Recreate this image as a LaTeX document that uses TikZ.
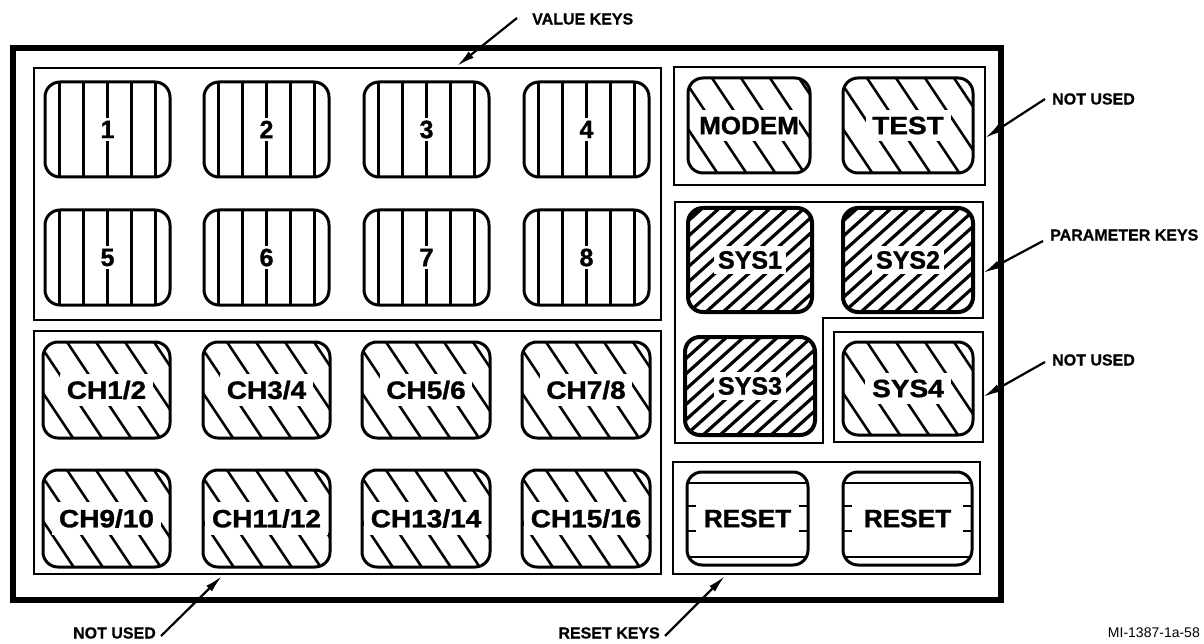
\documentclass[tikz,border=0pt]{standalone}
\usepackage{fontspec}
\setmainfont{Liberation Sans}
\newfontfamily\keyfont[FakeBold=1.2]{Liberation Sans Bold}
\newfontfamily\lblfont[FakeBold=0.6]{Liberation Sans Bold}
\usetikzlibrary{arrows.meta}
\tikzset{
  frame/.style={line width=6pt},
  boxline/.style={line width=2pt},
  keyborder/.style={line width=3pt, rounded corners=15pt},
  sysborder/.style={line width=4pt, rounded corners=15pt},
  hatch/.style={line width=2.6pt},
  densehatch/.style={line width=3.2pt},
  keytext/.style={font=\fontsize{25}{25}\selectfont\keyfont, fill=white, inner sep=3pt},
  chtext/.style={keytext, inner xsep=6pt, inner ysep=7pt, xscale=1.12},
  modemtext/.style={keytext, inner xsep=0pt, inner ysep=7pt, xscale=1.04},
  systext/.style={keytext, inner xsep=4pt, inner ysep=5pt},
  resettext/.style={keytext, fill=none, xscale=1.05},
  lbl/.style={font=\fontsize{16}{16}\selectfont\lblfont, inner sep=0pt},
  idlbl/.style={font=\fontsize{14}{14}\selectfont, inner sep=0pt},
  arr/.style={line width=2.2pt, -{Latex[length=18pt,width=8pt]}}
}
\newcommand\vhatch{\foreach \i in {-2,...,2}{\draw[hatch] ({(\xa+\xb)/2+24*(\i)},\ya) -- ({(\xa+\xb)/2+24*(\i)},\yb);}}
\newcommand\bhatch{\foreach \i in {-3,...,4}{\draw[hatch] ({\xa+24+29*(\i)},\ya) -- ++({(\yb-\ya)*2/3},{\yb-\ya});}}
\newcommand\shatch{\foreach \i in {0,...,15}{\draw[densehatch] ({\xa-118+17*(\i)},\yb) -- ++({(\yb-\ya)/0.9},{\ya-\yb});}}
\newcommand\rhatch{%
  \draw[hatch] (\xa,{\ya+11}) -- (\xb,{\ya+11});
  \draw[hatch] (\xa,{\yb-8}) -- (\xb,{\yb-8});
  \foreach \s in {-12.5,12.5}{%
    \draw[hatch] (\xa,{(\ya+\yb)/2+\s}) -- ++(9,0);
    \draw[hatch] (\xb,{(\ya+\yb)/2+\s}) -- ++(-9,0);}}
\newcommand\padkey[9]{%
  \def\xa{#2}\def\ya{#3}\def\xb{#4}\def\yb{#5}%
  \begin{scope}
    \clip[rounded corners=15pt] (\xa,\ya) rectangle (\xb,\yb);
    #6
  \end{scope}
  \node[#8] (#1) at ({(\xa+\xb)/2},{(\ya+\yb)/2}) {#9};
  \draw[#7] (\xa,\ya) rectangle (\xb,\yb);
}
\begin{document}
\begin{tikzpicture}[x=1pt,y=-1pt]
\useasboundingbox (0,0) rectangle (1204,644);
% outer frame
\draw[frame] (13,48) rectangle (1001,600);
% group boxes
\draw[boxline] (34,68) rectangle (661,320);
\draw[boxline] (34,331) rectangle (661,574);
\draw[boxline] (674,67) rectangle (985,185);
\draw[boxline] (675,202) -- (983,202) -- (983,318) -- (823,318) -- (823,443) -- (675,443) -- cycle;
\draw[boxline] (834,332) rectangle (983,442);
\draw[boxline] (673,462) rectangle (980,574);
% value keys
\padkey{k1}{45}{82}{170}{177}{\vhatch}{keyborder}{keytext}{1}
\padkey{k2}{204}{82}{329}{177}{\vhatch}{keyborder}{keytext}{2}
\padkey{k3}{364}{82}{489}{177}{\vhatch}{keyborder}{keytext}{3}
\padkey{k4}{524}{82}{649}{177}{\vhatch}{keyborder}{keytext}{4}
\padkey{k5}{45}{210}{170}{305}{\vhatch}{keyborder}{keytext}{5}
\padkey{k6}{204}{210}{329}{305}{\vhatch}{keyborder}{keytext}{6}
\padkey{k7}{364}{210}{489}{305}{\vhatch}{keyborder}{keytext}{7}
\padkey{k8}{524}{210}{649}{305}{\vhatch}{keyborder}{keytext}{8}
% channel keys
\padkey{ch1}{43}{342}{170}{438}{\bhatch}{keyborder}{chtext}{CH1/2}
\padkey{ch3}{203}{342}{330}{438}{\bhatch}{keyborder}{chtext}{CH3/4}
\padkey{ch5}{362}{342}{490}{438}{\bhatch}{keyborder}{chtext}{CH5/6}
\padkey{ch7}{522}{342}{650}{438}{\bhatch}{keyborder}{chtext}{CH7/8}
\padkey{ch9}{43}{470}{170}{567}{\bhatch}{keyborder}{chtext}{CH9/10}
\padkey{ch11}{203}{470}{330}{567}{\bhatch}{keyborder}{chtext}{CH11/12}
\padkey{ch13}{362}{470}{490}{567}{\bhatch}{keyborder}{chtext}{CH13/14}
\padkey{ch15}{522}{470}{650}{567}{\bhatch}{keyborder}{chtext}{CH15/16}
% right keys
\padkey{modem}{688}{78}{810}{173}{\bhatch}{keyborder}{modemtext}{MODEM}
\padkey{test}{843}{78}{973}{173}{\bhatch}{keyborder}{chtext}{TEST}
\padkey{sys1}{688}{208}{812}{312}{\shatch}{sysborder}{systext}{SYS1}
\padkey{sys2}{843}{208}{973}{312}{\shatch}{sysborder}{systext}{SYS2}
\padkey{sys3}{685}{337}{815}{435}{\shatch}{sysborder}{systext}{SYS3}
\padkey{sys4}{843}{342}{973}{435}{\bhatch}{keyborder}{chtext}{SYS4}
\padkey{reset1}{687}{472}{808}{565}{\rhatch}{keyborder}{resettext}{RESET}
\padkey{reset2}{843}{472}{972}{565}{\rhatch}{keyborder}{resettext}{RESET}
% labels
\node[lbl, anchor=west] (vk) at (532,19) {VALUE KEYS};
\node[lbl, anchor=west] (nu1) at (1052,99) {NOT USED};
\node[lbl, anchor=west] (pk) at (1050,235) {PARAMETER KEYS};
\node[lbl, anchor=west] (nu2) at (1052,360) {NOT USED};
\node[lbl, anchor=east] (nu3) at (156,633) {NOT USED};
\node[lbl, anchor=east] (rk) at (660,633) {RESET KEYS};
\node[idlbl, anchor=east] (mi) at (1200,633) {MI-1387-1a-58};
% arrow tips
\coordinate (tvk) at (457,66);
\coordinate (tnu1) at (985,138);
\coordinate (tpk) at (983,273);
\coordinate (tnu2) at (983,397);
\coordinate (tnu3) at (222,576);
\coordinate (trk) at (725,576);
\draw[arr] ([xshift=-15pt,yshift=1pt]vk.west) -- (tvk);
\draw[arr] ([xshift=-7pt]nu1.west) -- (tnu1);
\draw[arr] ([xshift=-7pt,yshift=-6pt]pk.west) -- (tpk);
\draw[arr] ([xshift=-7pt,yshift=-2pt]nu2.west) -- (tnu2);
\draw[arr] ([xshift=5pt,yshift=-3pt]nu3.east) -- (tnu3);
\draw[arr] ([xshift=5pt,yshift=-3pt]rk.east) -- (trk);
\end{tikzpicture}
\end{document}
